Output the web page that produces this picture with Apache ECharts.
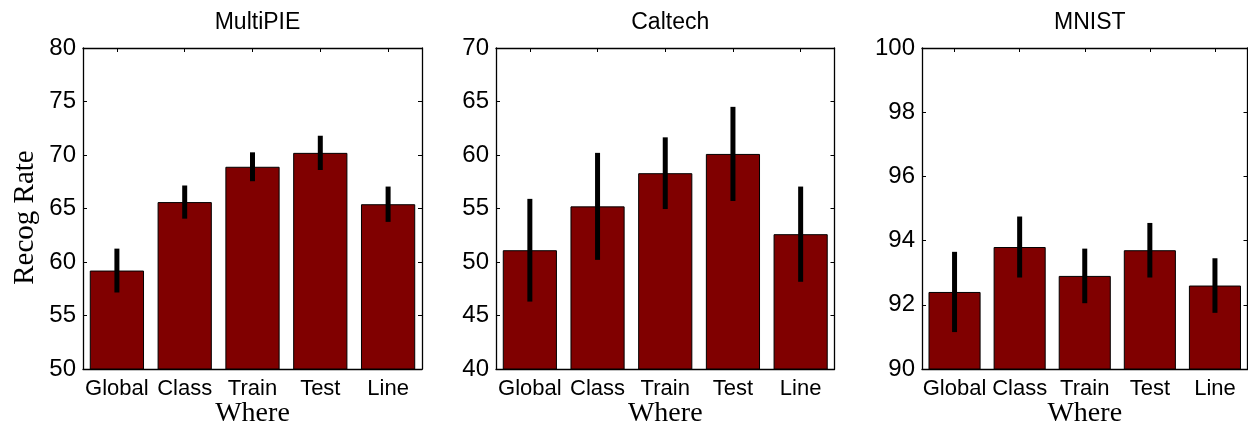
<!DOCTYPE html>
<html>
<head>
<meta charset="utf-8">
<script src="https://cdn.jsdelivr.net/npm/echarts@6/dist/echarts.min.js"></script>
<style>
html, body { margin: 0; padding: 0; background: #fff; }
#main { width: 1248px; height: 425px; }
</style>
</head>
<body>
<div id="main"></div>
<script>
// categories along the x axis of every panel
const categories = ['Global', 'Class', 'Train', 'Test', 'Line']
const panelTitles = ['MultiPIE', 'Caltech', 'MNIST']

// mean recognition rate and error (half length of the black bar)
const multipieMean = [59.2, 65.6, 68.9, 70.2, 65.4]
const multipieErr = [2.05, 1.55, 1.35, 1.6, 1.65]
const caltechMean = [51.1, 55.2, 58.3, 60.1, 52.6]
const caltechErr = [4.8, 5.0, 3.35, 4.4, 4.45]
const mnistMean = [92.4, 93.8, 92.9, 93.7, 92.6]
const mnistErr = [1.25, 0.95, 0.85, 0.85, 0.85]

// y axis ranges: [min, max, step]
const yRanges = [[50, 80, 5], [40, 70, 5], [90, 100, 2]]

const means = [multipieMean, caltechMean, mnistMean]
const errs = [multipieErr, caltechErr, mnistErr]

// plot boxes
const boxes = [
    {left: 83, width: 339},
    {left: 496, width: 338.5},
    {left: 922, width: 325.5}
]

const sans = 'Liberation Sans, Arial, Helvetica, sans-serif'
const serif = 'Liberation Serif, Times New Roman, serif'
const barColor = '#800000'

let option = {
    animation: false,
    backgroundColor: '#fff',
    title: [],
    grid: [],
    xAxis: [],
    yAxis: [],
    series: []
}

boxes.forEach(function (b, i) {
    option.title.push({
        text: panelTitles[i],
        left: b.left + b.width / 2,
        textAlign: 'center',
        top: 6,
        textStyle: {fontFamily: sans, fontSize: 23, fontWeight: 'normal', color: '#000'}
    })
    option.grid.push({left: b.left, width: b.width, top: 48, height: 321, outerBoundsMode: 'none', containLabel: false})

    // bottom axis with labels
    option.xAxis.push({
        type: 'category',
        gridIndex: i,
        data: categories,
        position: 'bottom',
        name: 'Where',
        nameLocation: 'middle',
        nameGap: 31,
        nameMoveOverlap: false,
        nameTextStyle: {fontFamily: serif, fontSize: 28, color: '#000'},
        axisLine: {show: true, lineStyle: {color: '#000', width: 1.3}},
        axisTick: {show: false},
        axisLabel: {fontFamily: sans, fontSize: 22, color: '#000', margin: 9, interval: 0},
        splitLine: {show: false}
    })
    // top axis, ticks only
    option.xAxis.push({
        type: 'category',
        gridIndex: i,
        data: categories,
        position: 'top',
        axisLine: {show: true, lineStyle: {color: '#000', width: 1.3}},
        axisTick: {show: true, inside: true, alignWithLabel: true, length: 4, lineStyle: {color: '#000'}},
        axisLabel: {show: false},
        splitLine: {show: false}
    })

    const r = yRanges[i]
    option.yAxis.push({
        type: 'value',
        gridIndex: i,
        min: r[0], max: r[1], interval: r[2],
        position: 'left',
        name: i === 0 ? 'Recog Rate' : '',
        nameLocation: 'middle',
        nameGap: 43,
        nameMoveOverlap: false,
        nameTextStyle: {fontFamily: serif, fontSize: 29, color: '#000', padding: [0, 18, 0, 0]},
        axisLine: {show: true, lineStyle: {color: '#000', width: 1.3}},
        axisTick: {show: true, inside: true, length: 4, lineStyle: {color: '#000'}},
        axisLabel: {fontFamily: sans, fontSize: 24, color: '#000', margin: 7},
        splitLine: {show: false}
    })
    option.yAxis.push({
        type: 'value',
        gridIndex: i,
        min: r[0], max: r[1], interval: r[2],
        position: 'right',
        axisLine: {show: true, lineStyle: {color: '#000', width: 1.3}},
        axisTick: {show: true, inside: true, length: 4, lineStyle: {color: '#000'}},
        axisLabel: {show: false},
        splitLine: {show: false}
    })

    option.series.push({
        type: 'bar',
        xAxisIndex: i * 2,
        yAxisIndex: i * 2,
        data: means[i],
        barWidth: '80%',
        itemStyle: {color: barColor, borderColor: '#000', borderWidth: 1}
    })
    option.series.push({
        type: 'custom',
        xAxisIndex: i * 2,
        yAxisIndex: i * 2,
        z: 5,
        encode: {x: 0, y: [1, 2]},
        data: means[i].map(function (m, k) {
            return [k, m - errs[i][k], m + errs[i][k]]
        }),
        renderItem: function (params, api) {
            const lo = api.coord([api.value(0), api.value(1)])
            const hi = api.coord([api.value(0), api.value(2)])
            return {
                type: 'line',
                shape: {x1: lo[0], y1: lo[1], x2: hi[0], y2: hi[1]},
                style: {stroke: '#000', lineWidth: 5, lineCap: 'butt'}
            }
        }
    })
})

const myEcharts = echarts.init(document.getElementById('main'))
myEcharts.setOption(option)
</script>
</body>
</html>
